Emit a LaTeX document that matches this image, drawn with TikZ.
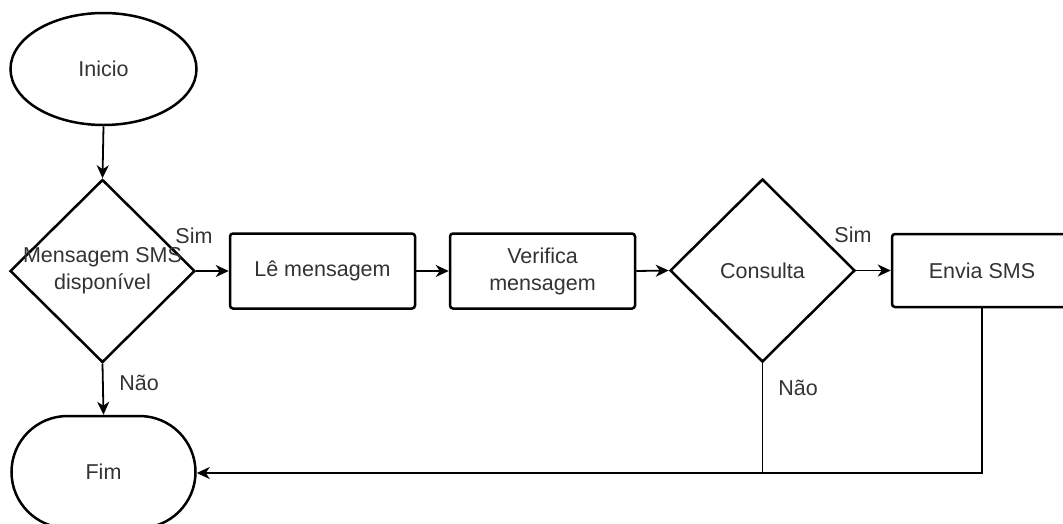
\documentclass[tikz,border=0pt]{standalone}
\usepackage{fontspec}
\setmainfont{Liberation Sans}
\usetikzlibrary{shapes.geometric,arrows.meta}
\definecolor{txt}{HTML}{333333}
\begin{document}
\begin{tikzpicture}[x=1pt,y=-1pt,
  every node/.style={font=\fontsize{21.5}{27}\selectfont, text=txt},
  shapeline/.style={draw=black, line width=2.5pt, fill=white},
  term/.style={shapeline, ellipse, minimum width=186pt, minimum height=112pt, inner sep=0pt},
  endterm/.style={shapeline, rectangle, rounded corners=56pt, minimum width=184pt, minimum height=112pt, inner sep=0pt},
  decide/.style={shapeline, diamond, minimum width=185pt, minimum height=183pt, inner sep=0pt, align=center},
  procbox/.style={shapeline, rectangle, rounded corners=3pt, minimum width=185pt, minimum height=75pt, inner sep=0pt, align=center},
  flow/.style={draw=black, line width=1.8pt, -{Stealth[length=13pt,width=12pt,inset=4pt]}},
  plainflow/.style={draw=black, line width=1.8pt},
  lbl/.style={inner sep=0pt}
]
\useasboundingbox (0,0) rectangle (1063,523);
\clip (0,0) rectangle (1063,523);

% shapes
\node[term] (inicio) at (103.5,69) {Inicio};
\node[decide, label={[align=center, text=txt]center:Mensagem SMS\\disponível}] (sms) at (102.5,271) {};
\node[endterm] (fim) at (103.5,472) {Fim};
\node[procbox] (le) at (322.5,271) {Lê mensagem};
\node[procbox] (verif) at (542.5,271) {Verifica\\mensagem};
\node[decide] (consulta) at (762.5,270.5) {Consulta};
\node[procbox, minimum width=180pt, minimum height=73pt] (envia) at (982,270.5) {Envia SMS};

% junction points on the return line
\coordinate (jEnvia) at (982,473);
\coordinate (jCons) at (762.5,473);

% connectors
\draw[flow] (inicio.south) -- (sms.north);
\draw[flow] (sms.south) -- (fim.north);
\draw[flow] (sms.east) -- (le.west);
\draw[flow] (le.east) -- (verif.west);
\draw[flow] (verif.east) -- (consulta.west);
\draw[flow] (consulta.east) -- (envia.west);
\draw[plainflow] (consulta.south) -- (jCons);
\draw[flow] (envia.south) -- (jEnvia) -- (fim.east |- jEnvia);

% branch labels
\node[lbl] (simA) at (194,236) {Sim};
\node[lbl] (naoA) at (139,383) {Não};
\node[lbl] (simB) at (853,235) {Sim};
\node[lbl] (naoB) at (798,388) {Não};
\end{tikzpicture}
\end{document}
